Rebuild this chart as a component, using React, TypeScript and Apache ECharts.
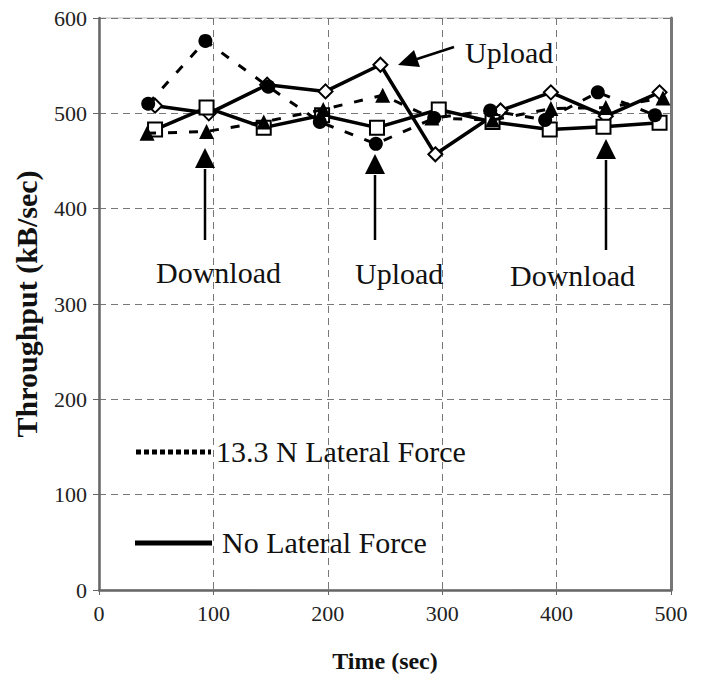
import React, { useEffect, useRef } from "react";
import * as echarts from "echarts";

// ---- data ----
const circleTimes = [43, 93, 148, 193, 242, 293, 342, 390, 436, 486];
const lateralCircle = [510, 576, 528, 491, 468, 495, 503, 493, 522, 498];
const triangleTimes = [42, 94, 144, 196, 248, 291, 344, 395, 443, 493];
const lateralTriangle = [479, 481, 491, 504, 519, 495, 493, 505, 506, 516];
const diamondTimes = [49, 96, 147, 198, 246, 294, 351, 395, 443, 490];
const noLateralDiamond = [508, 500, 530, 523, 551, 457, 503, 522, 497, 522];
const squareTimes = [49, 94, 144, 195, 243, 297, 344, 394, 441, 490];
const noLateralSquare = [483, 506, 485, 498, 485, 504, 491, 483, 486, 490];

const seriesNames = ["13.3 N Lateral Force", "No Lateral Force"];
const annotationLabels = ["Download", "Upload", "Download", "Upload"];
const xAxisTitle = "Time (sec)";
const yAxisTitle = "Throughput (kB/sec)";

const FONT = "Liberation Serif";

function pairs(xs: number[], ys: number[]) {
  return xs.map((x, i) => [x, ys[i]]);
}

function upArrow(x: number, tip: number, base: number, end: number) {
  return [
    {
      type: "line",
      shape: { x1: x, y1: end, x2: x, y2: base + 1 },
      style: { stroke: "#000", lineWidth: 2.5 },
      z: 100,
    },
    {
      type: "polygon",
      shape: { points: [[x - 10, base], [x + 10, base], [x, tip]] },
      style: { fill: "#000" },
      z: 100,
    },
  ];
}

function label(text: string, x: number, y: number) {
  return {
    type: "text",
    x,
    y,
    style: {
      text,
      fontFamily: FONT,
      fontSize: 30,
      fill: "#111",
      verticalAlign: "middle",
      align: "left",
    },
    z: 100,
  };
}

export default function App() {
  const ref = useRef<HTMLDivElement>(null);
  useEffect(() => {
    document.body.style.margin = "0";
    const chart = echarts.init(ref.current!, undefined, { renderer: "svg" });
    const lineBase = { color: "#000", width: 3.5 };
    chart.setOption({
      animation: false,
      backgroundColor: "#fff",
      textStyle: { fontFamily: FONT },
      grid: {
        left: 99,
        right: 30,
        top: 18,
        bottom: 91,
        show: true,
        borderColor: "#bbb",
        borderWidth: 1,
      },
      xAxis: {
        type: "value",
        min: 0,
        max: 500,
        interval: 100,
        name: xAxisTitle,
        nameLocation: "middle",
        nameGap: 59,
        nameTextStyle: { fontFamily: FONT, fontWeight: "bold", fontSize: 24, color: "#111" },
        axisLine: { show: true, onZero: false, lineStyle: { color: "#666", width: 2.5 } },
        axisTick: { show: true, length: 5, lineStyle: { color: "#666" } },
        axisLabel: { fontFamily: FONT, fontSize: 22, color: "#222", margin: 12 },
        splitLine: { show: true, lineStyle: { color: "#777", width: 1, type: [7, 5] } },
      },
      yAxis: [
        {
          type: "value",
          min: 0,
          max: 600,
          interval: 100,
          name: yAxisTitle,
          nameLocation: "middle",
          nameGap: 58,
          nameTextStyle: { fontFamily: FONT, fontWeight: "bold", fontSize: 30, color: "#111" },
          axisLine: { show: true, onZero: false, lineStyle: { color: "#666", width: 2.5 } },
          axisTick: { show: true, length: 6, lineStyle: { color: "#666" } },
          axisLabel: { fontFamily: FONT, fontSize: 22, color: "#222", margin: 12 },
          splitLine: { show: true, lineStyle: { color: "#777", width: 1, type: [7, 5] } },
        },
        {
          type: "value",
          min: 0,
          max: 600,
          interval: 100,
          position: "right",
          axisLine: { show: true, onZero: false, lineStyle: { color: "#777", width: 3 } },
          axisTick: { show: false },
          axisLabel: { show: false },
          splitLine: { show: false },
        },
      ],
      series: [
        {
          name: seriesNames[1],
          type: "line",
          data: pairs(diamondTimes, noLateralDiamond),
          symbol: "diamond",
          symbolSize: 14,
          lineStyle: { ...lineBase, type: "solid" },
          itemStyle: { color: "#fff", borderColor: "#000", borderWidth: 2 },
          z: 2,
        },
        {
          name: seriesNames[1],
          type: "line",
          data: pairs(squareTimes, noLateralSquare),
          symbol: "rect",
          symbolSize: 14,
          lineStyle: { ...lineBase, type: "solid" },
          itemStyle: { color: "#fff", borderColor: "#000", borderWidth: 2 },
          z: 3,
        },
        {
          name: seriesNames[0],
          type: "line",
          data: pairs(triangleTimes, lateralTriangle),
          symbol: "triangle",
          symbolSize: 15,
          lineStyle: { ...lineBase, width: 3, type: [9, 12] },
          itemStyle: { color: "#000" },
          z: 4,
        },
        {
          name: seriesNames[0],
          type: "line",
          data: pairs(circleTimes, lateralCircle),
          symbol: "circle",
          symbolSize: 14,
          lineStyle: { ...lineBase, width: 3, type: [9, 12] },
          itemStyle: { color: "#000" },
          z: 5,
        },
      ],
      graphic: [
        ...upArrow(205, 148, 168, 240),
        ...upArrow(375, 154, 174, 240),
        ...upArrow(606, 139, 159, 250),
        {
          type: "line",
          shape: { x1: 454, y1: 47, x2: 414, y2: 60 },
          style: { stroke: "#000", lineWidth: 2.5 },
          z: 100,
        },
        {
          type: "polygon",
          shape: { points: [[398, 65], [420, 67], [414, 50]] },
          style: { fill: "#000" },
          z: 100,
        },
        label(annotationLabels[0], 156, 272),
        label(annotationLabels[1], 355, 273),
        label(annotationLabels[2], 510, 275),
        label(annotationLabels[3], 465, 52),
        {
          type: "line",
          shape: { x1: 136, y1: 452, x2: 211, y2: 452 },
          style: { stroke: "#000", lineWidth: 5, lineDash: [5, 3] },
          z: 100,
        },
        label(seriesNames[0], 216, 451),
        {
          type: "line",
          shape: { x1: 135, y1: 543, x2: 212, y2: 543 },
          style: { stroke: "#000", lineWidth: 5 },
          z: 100,
        },
        label(seriesNames[1], 222, 542),
      ],
    });
    return () => chart.dispose();
  }, []);
  return <div ref={ref} style={{ width: 701, height: 681 }} />;
}
